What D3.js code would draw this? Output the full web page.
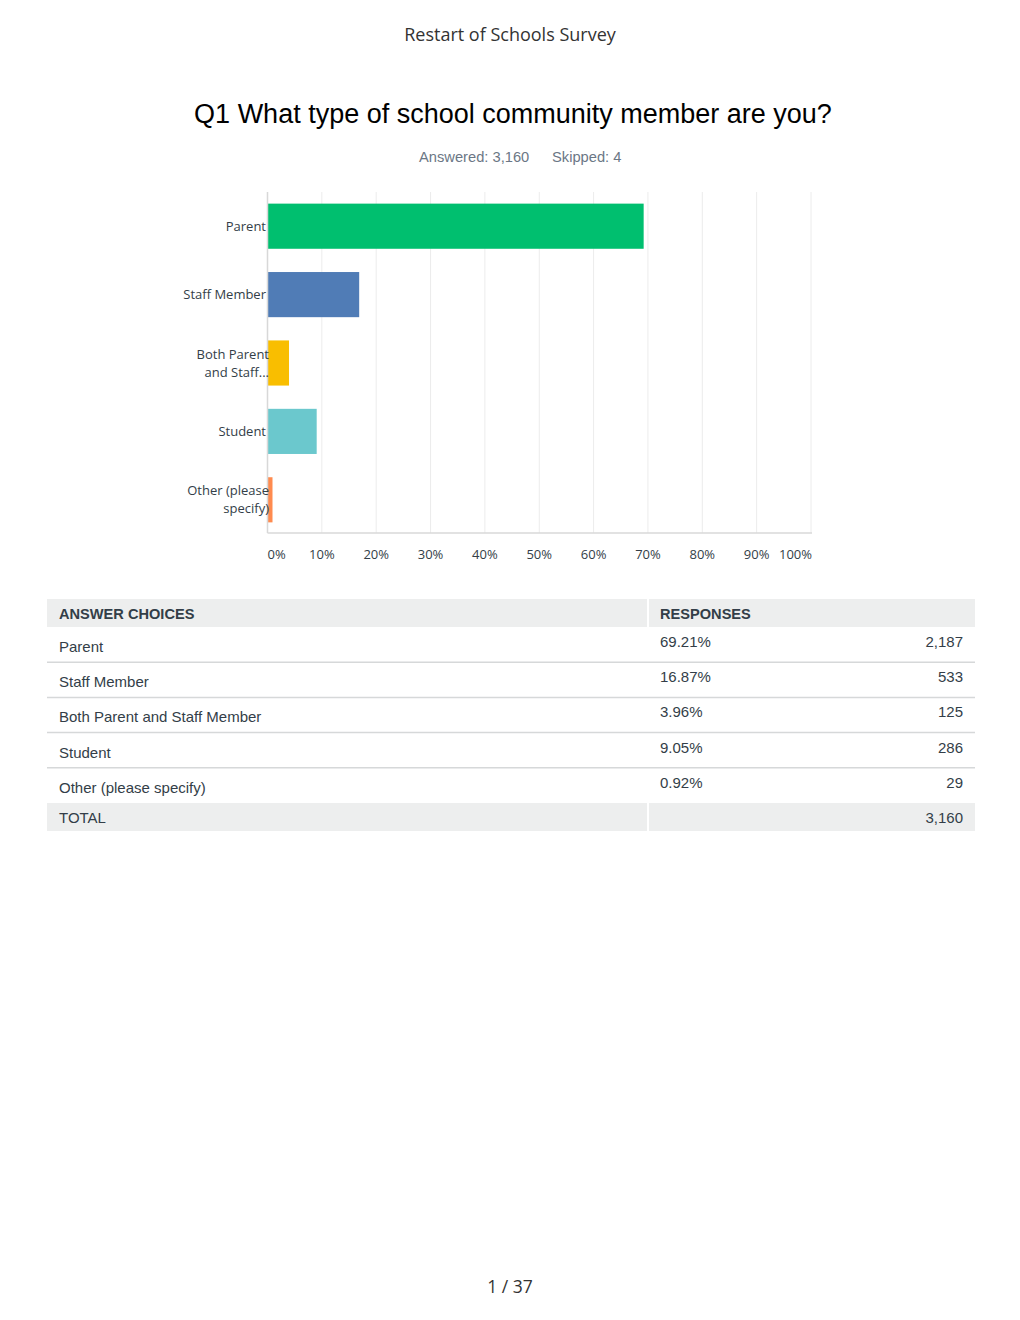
<!DOCTYPE html>
<html>
<head>
<meta charset="utf-8">
<script src="https://cdn.jsdelivr.net/npm/d3@7"></script>
<style>
  body { margin: 0; background: #fff; }
  svg { display: block; }
</style>
</head>
<body>
<div id="chart"></div>
<script>
// data
var categories = ['Parent', 'Staff Member', 'Both Parent and Staff Member', 'Student', 'Other (please specify)'];
var axisLabels = [['Parent'], ['Staff Member'], ['Both Parent', 'and Staff...'], ['Student'], ['Other (please', 'specify)']];
var percents = [69.21, 16.87, 3.96, 9.05, 0.92];
var counts = [2187, 533, 125, 286, 29];
var total = 3160;
var skipped = 4;
var tickValues = [0, 10, 20, 30, 40, 50, 60, 70, 80, 90, 100];
var barColors = ['#00bf6f', '#507cb6', '#f9be00', '#6bc8cd', '#ff8b4f'];

var W = 1020, H = 1320;
var textColor = '#333e48';

var svg = d3.select('#chart').append('svg')
    .attr('width', W)
    .attr('height', H);

// page header
svg.append('text')
    .attr('x', 510).attr('y', 41)
    .attr('text-anchor', 'middle')
    .style('font-family', 'Open Sans, sans-serif')
    .style('font-size', '18px')
    .attr('fill', '#333')
    .text('Restart of Schools Survey');

svg.append('text')
    .attr('x', 513).attr('y', 123)
    .attr('text-anchor', 'middle')
    .style('font-family', 'Liberation Sans, Arial, sans-serif')
    .style('font-size', '27px')
    .attr('fill', '#000')
    .text('Q1 What type of school community member are you?');

var sub = svg.append('text')
    .attr('y', 162)
    .style('font-family', 'Liberation Sans, Arial, sans-serif')
    .style('font-size', '14.7px')
    .attr('fill', '#6b7785');
sub.append('tspan').attr('x', 419).text('Answered: ' + d3.format(',')(total));
sub.append('tspan').attr('x', 552).text('Skipped: ' + skipped);

// bar chart
var plot = { left: 267.5, right: 811, top: 192, bottom: 533 };

var x = d3.scaleLinear()
    .domain([0, 100])
    .range([plot.left, plot.right]);

var y = d3.scaleBand()
    .domain(categories)
    .range([plot.top, plot.bottom + 1])
    .paddingInner(0.34)
    .paddingOuter(0.17);

var chart = svg.append('g');

// gridlines
chart.selectAll('line.grid')
    .data(tickValues.slice(1))
    .enter()
    .append('line')
    .attr('class', 'grid')
    .attr('x1', function (d) { return x(d); })
    .attr('x2', function (d) { return x(d); })
    .attr('y1', plot.top)
    .attr('y2', plot.bottom)
    .attr('stroke', '#ececec')
    .attr('stroke-width', 1);

chart.selectAll('rect.bar')
    .data(percents)
    .enter()
    .append('rect')
    .attr('class', 'bar')
    .attr('x', x(0))
    .attr('y', function (d, i) { return y(categories[i]); })
    .attr('width', function (d) { return x(d) - x(0); })
    .attr('height', y.bandwidth())
    .attr('fill', function (d, i) { return barColors[i]; });

// axis lines
chart.append('line')
    .attr('x1', plot.left).attr('x2', plot.left)
    .attr('y1', plot.top).attr('y2', plot.bottom)
    .attr('stroke', '#d8d8d8').attr('stroke-width', 1.5);
chart.append('line')
    .attr('x1', plot.left).attr('x2', plot.right + 1)
    .attr('y1', plot.bottom).attr('y2', plot.bottom)
    .attr('stroke', '#d8d8d8').attr('stroke-width', 1.5);

// x tick labels
chart.selectAll('text.tick')
    .data(tickValues)
    .enter()
    .append('text')
    .attr('class', 'tick')
    .attr('x', function (d) { return d === 100 ? x(d) + 1 : x(d); })
    .attr('y', 559)
    .attr('text-anchor', function (d) { return d === 0 ? 'start' : (d === 100 ? 'end' : 'middle'); })
    .style('font-family', 'Open Sans, sans-serif')
    .style('font-size', '13px')
    .attr('fill', textColor)
    .text(function (d) { return d + '%'; });

// y labels
var yl = chart.selectAll('text.ylab')
    .data(axisLabels)
    .enter()
    .append('text')
    .attr('class', 'ylab')
    .attr('text-anchor', 'end')
    .style('font-family', 'Open Sans, sans-serif')
    .style('font-size', '13px')
    .attr('fill', textColor);

yl.each(function (lines, i) {
    var cy = y(categories[i]) + y.bandwidth() / 2;
    var t = d3.select(this);
    var lh = 18;
    var start = cy - (lines.length - 1) * lh / 2 + 4.5;
    var xr = lines.length > 1 ? 269 : 266;
    lines.forEach(function (s, j) {
        t.append('tspan')
            .attr('x', xr)
            .attr('y', start + j * lh)
            .text(s);
    });
});

// table
var tbl = { left: 47, mid: 648, right: 975, headTop: 599, headH: 28, rowH: 35.2 };
var table = svg.append('g')
    .style('font-family', 'Liberation Sans, Arial, sans-serif')
    .style('font-size', '15px');

table.append('rect')
    .attr('x', tbl.left).attr('y', tbl.headTop)
    .attr('width', tbl.mid - tbl.left - 1).attr('height', tbl.headH)
    .attr('fill', '#edeeee');
table.append('rect')
    .attr('x', tbl.mid + 1).attr('y', tbl.headTop)
    .attr('width', tbl.right - tbl.mid - 1).attr('height', tbl.headH)
    .attr('fill', '#edeeee');

table.append('text')
    .attr('x', 59).attr('y', tbl.headTop + 19.5)
    .attr('fill', textColor).style('font-weight', 'bold').style('font-size', '14.6px')
    .text('ANSWER CHOICES');
table.append('text')
    .attr('x', 660).attr('y', tbl.headTop + 19.5)
    .attr('fill', textColor).style('font-weight', 'bold').style('font-size', '14.6px')
    .text('RESPONSES');

var rowTop = tbl.headTop + tbl.headH;
var rows = table.selectAll('g.row')
    .data(categories)
    .enter()
    .append('g')
    .attr('class', 'row')
    .attr('transform', function (d, i) { return 'translate(0,' + (rowTop + i * tbl.rowH) + ')'; });

rows.append('text')
    .attr('x', 59).attr('y', 25)
    .attr('fill', textColor)
    .text(function (d) { return d; });

rows.append('text')
    .attr('x', 660).attr('y', 20)
    .attr('fill', textColor)
    .text(function (d, i) { return percents[i].toFixed(2) + '%'; });

rows.append('text')
    .attr('x', 963).attr('y', 20)
    .attr('text-anchor', 'end')
    .attr('fill', textColor)
    .text(function (d, i) { return d3.format(',')(counts[i]); });

rows.filter(function (d, i) { return i < categories.length - 1; })
    .append('line')
    .attr('x1', tbl.left).attr('x2', tbl.right)
    .attr('y1', tbl.rowH).attr('y2', tbl.rowH)
    .attr('stroke', '#d6d8d9').attr('stroke-width', 1.5);

var totalTop = rowTop + categories.length * tbl.rowH;
table.append('rect')
    .attr('x', tbl.left).attr('y', totalTop)
    .attr('width', tbl.mid - tbl.left - 1).attr('height', tbl.headH)
    .attr('fill', '#edeeee');
table.append('rect')
    .attr('x', tbl.mid + 1).attr('y', totalTop)
    .attr('width', tbl.right - tbl.mid - 1).attr('height', tbl.headH)
    .attr('fill', '#edeeee');
table.append('text')
    .attr('x', 59).attr('y', totalTop + 19.5)
    .attr('fill', textColor)
    .text('TOTAL');
table.append('text')
    .attr('x', 963).attr('y', totalTop + 19.5)
    .attr('text-anchor', 'end')
    .attr('fill', textColor)
    .text(d3.format(',')(total));

// page number
svg.append('text')
    .attr('x', 510).attr('y', 1293)
    .attr('text-anchor', 'middle')
    .style('font-family', 'Open Sans, sans-serif')
    .style('font-size', '17.5px')
    .attr('fill', '#333')
    .text('1 / 37');
</script>
</body>
</html>
